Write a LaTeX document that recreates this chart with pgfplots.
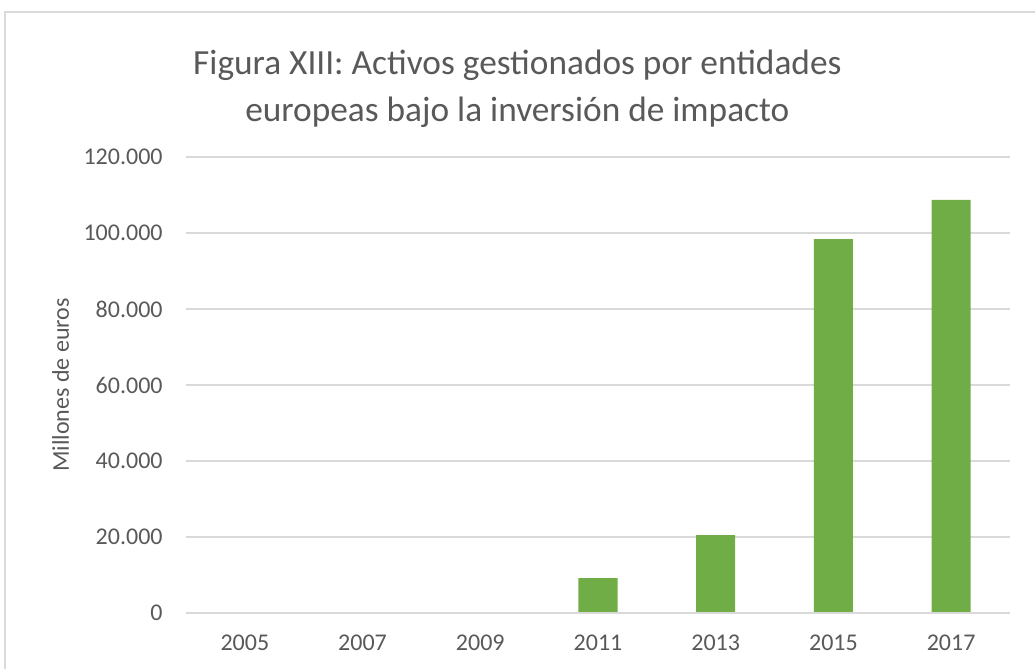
\documentclass[border=0pt]{standalone}
\usepackage{fontspec}
\setmainfont{Carlito}
\usepackage{pgfplots}
\pgfplotsset{compat=1.18}
\definecolor{txtgrey}{HTML}{595959}
\definecolor{gridgrey}{HTML}{D9D9D9}
\definecolor{bargreen}{HTML}{70AD47}
\begin{document}
\begin{tikzpicture}
% 1 px of the reference = 0.75pt
\useasboundingbox (0,0) rectangle (776.25pt,-501pt);
\begin{scope}
\clip (0,0) rectangle (776.25pt,-501pt);
\draw[gridgrey, line width=1pt] (3.75pt,-780pt) -- (3.75pt,-9pt) -- (800pt,-9pt);
\end{scope}
\node[txtgrey, font=\fontsize{26.5}{35}\selectfont, align=center] at (388pt,-66.5pt)
  {Figura XIII: Activos gestionados por entidades\\europeas bajo la inversión de impacto};
\begin{axis}[
  at={(139.5pt,-459.75pt)}, anchor=south west,
  scale only axis, width=618pt, height=342pt,
  ybar, bar width=29.25pt,
  xmin=-0.5, xmax=6.5, ymin=0, ymax=120000,
  xtick={0,...,6},
  xticklabels={2005,2007,2009,2011,2013,2015,2017},
  ytick={0,20000,40000,60000,80000,100000,120000},
  yticklabels={0,20.000,40.000,60.000,80.000,100.000,120.000},
  scaled y ticks=false,
  ymajorgrids, grid style={gridgrey, line width=0.9pt},
  axis line style={draw=none},
  major tick length=0pt,
  tick label style={txtgrey, font=\fontsize{18}{20}\selectfont},
  xticklabel style={yshift=-13pt},
  yticklabel style={xshift=-14pt},
  ylabel={Millones de euros},
  ylabel shift=4pt,
  ylabel style={txtgrey, font=\fontsize{18}{20}\selectfont},
  clip=false,
]
\addplot[fill=bargreen, draw=none] coordinates {
  (0,0) (1,0) (2,0) (3,9200) (4,20500) (5,98400) (6,108700)
};
\draw[gridgrey, line width=0.9pt] (axis cs:-0.5,0) -- (axis cs:6.5,0);
\end{axis}
\end{tikzpicture}
\end{document}
